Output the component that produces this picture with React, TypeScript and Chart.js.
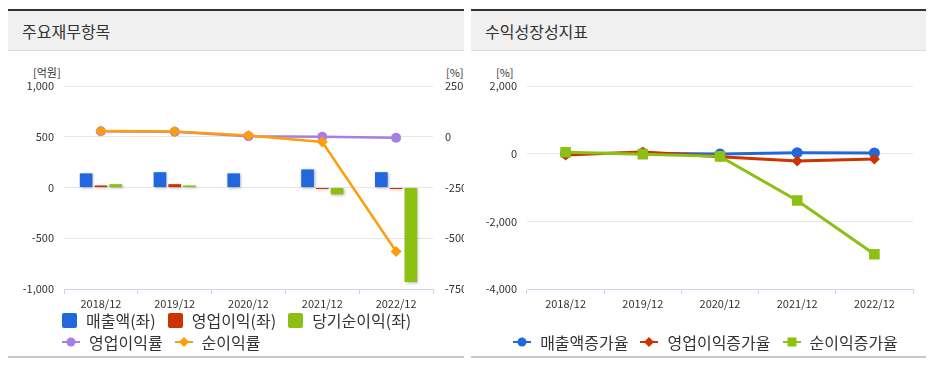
import React, { useEffect, useRef } from "react";
import { Chart, registerables } from "chart.js";

Chart.register(...registerables);

const FONT = '"Noto Sans CJK KR", "Noto Sans", sans-serif';

const categories = ["2018/12", "2019/12", "2020/12", "2021/12", "2022/12"];

// left chart (억원 / %)
const sales = [139, 151, 139, 178, 151];
const operatingIncome = [20, 33, 0, -15, -15];
const netIncome = [33, 20, 0, -67, -930];
const operatingMargin = [27, 25, 3, 0, -5];
const netMargin = [28, 26, 6, -26, -565];

// right chart (%)
const salesGrowth = [5, 9, -8, 28, 20];
const operatingGrowth = [-40, 50, -90, -218, -160];
const netGrowth = [40, -15, -80, -1383, -2975];

const leftAxisTicks = { min: -1000, max: 1000, step: 500 };
const rightAxisTicks = { min: -750, max: 250, step: 250 };
const growthAxisTicks = { min: -4000, max: 2000, step: 2000 };

const BLUE = "#2268dc";
const RED = "#cc3300";
const GREEN = "#8cc012";
const PURPLE = "#a77fe0";
const ORANGE = "#ff9e0a";

const barShadow = {
  id: "barShadow",
  beforeDatasetDraw(chart: any, args: any) {
    const meta = chart.getDatasetMeta(args.index);
    if (meta.type === "bar") {
      const ctx = chart.ctx;
      ctx.save();
      ctx.shadowColor = "rgba(0,0,0,0.32)";
      ctx.shadowBlur = 3;
      ctx.shadowOffsetX = 1;
      ctx.shadowOffsetY = 1;
    }
  },
  afterDatasetDraw(chart: any, args: any) {
    const meta = chart.getDatasetMeta(args.index);
    if (meta.type === "bar") chart.ctx.restore();
  },
};

const xScale = {
  grid: {
    display: true,
    drawOnChartArea: false,
    drawTicks: true,
    tickLength: 5,
    color: "#ccd6eb",
    offset: true,
  },
  border: { display: true, color: "#ccd6eb", width: 1 },
  ticks: { color: "#333", font: { size: 11, family: FONT }, padding: 3, maxRotation: 0 },
  afterFit: (s: any) => {
    s.height = 25;
  },
};

function LeftChart() {
  const ref = useRef<HTMLCanvasElement>(null);
  useEffect(() => {
    const barOpts = { categoryPercentage: 0.6, barPercentage: 0.86, yAxisID: "y" };
    const chart = new Chart(ref.current as HTMLCanvasElement, {
      type: "bar",
      data: {
        labels: categories,
        datasets: [
          { type: "bar", label: "매출액(좌)", data: sales, backgroundColor: BLUE, order: 2, ...barOpts } as any,
          { type: "bar", label: "영업이익(좌)", data: operatingIncome, backgroundColor: RED, order: 3, ...barOpts },
          { type: "bar", label: "당기순이익(좌)", data: netIncome, backgroundColor: GREEN, order: 4, ...barOpts },
          { type: "line", label: "영업이익률", data: operatingMargin, yAxisID: "y1", order: 1, borderColor: PURPLE, backgroundColor: PURPLE, borderWidth: 2.5, pointStyle: "circle", pointRadius: 5, pointBorderWidth: 0, pointBackgroundColor: PURPLE, tension: 0 },
          { type: "line", label: "순이익률", data: netMargin, yAxisID: "y1", order: 0, borderColor: ORANGE, backgroundColor: ORANGE, borderWidth: 2.5, pointStyle: "rectRot", pointRadius: 5.5, pointBorderWidth: 0, pointBackgroundColor: ORANGE, tension: 0 },
        ],
      },
      options: {
        responsive: false,
        animation: false,
        devicePixelRatio: 1,
        layout: { padding: { top: 34, bottom: 0, left: 0, right: 0 } },
        plugins: { legend: { display: false }, tooltip: { enabled: false } },
        scales: {
          x: xScale as any,
          y: {
            position: "left",
            min: leftAxisTicks.min,
            max: leftAxisTicks.max,
            ticks: { stepSize: leftAxisTicks.step, color: "#333", font: { size: 11, family: FONT }, padding: 10 },
            grid: { color: "#e6e6e6", drawTicks: false },
            border: { display: false },
            afterFit: (s: any) => {
              s.width = 56;
            },
          },
          y1: {
            position: "right",
            min: rightAxisTicks.min,
            max: rightAxisTicks.max,
            ticks: { stepSize: rightAxisTicks.step, color: "#333", font: { size: 11, family: FONT }, padding: 12 },
            grid: { display: false, drawTicks: false },
            border: { display: false },
            afterFit: (s: any) => {
              s.width = 31;
            },
          },
        },
      } as any,
      plugins: [barShadow],
    });
    return () => chart.destroy();
  }, []);
  return <canvas ref={ref} width={456} height={262} style={{ position: "absolute", left: 8, top: 52, width: 456, height: 262 }} />;
}

function RightChart() {
  const ref = useRef<HTMLCanvasElement>(null);
  useEffect(() => {
    const chart = new Chart(ref.current as HTMLCanvasElement, {
      type: "line",
      data: {
        labels: categories,
        datasets: [
          { label: "매출액증가율", data: salesGrowth, order: 2, borderColor: BLUE, backgroundColor: BLUE, borderWidth: 3, pointStyle: "circle", pointRadius: 5.5, pointBorderWidth: 0, pointBackgroundColor: BLUE, tension: 0 },
          { label: "영업이익증가율", data: operatingGrowth, order: 1, borderColor: RED, backgroundColor: RED, borderWidth: 3, pointStyle: "rectRot", pointRadius: 5.5, pointBorderWidth: 0, pointBackgroundColor: RED, tension: 0 },
          { label: "순이익증가율", data: netGrowth, order: 0, borderColor: GREEN, backgroundColor: GREEN, borderWidth: 3, pointStyle: "rect", pointRadius: 7.5, pointBorderWidth: 0, pointBackgroundColor: GREEN, tension: 0 },
        ],
      },
      options: {
        responsive: false,
        animation: false,
        devicePixelRatio: 1,
        layout: { padding: { top: 34, bottom: 0, left: 0, right: 15 } },
        plugins: { legend: { display: false }, tooltip: { enabled: false } },
        scales: {
          x: { ...xScale, offset: true } as any,
          y: {
            position: "left",
            min: growthAxisTicks.min,
            max: growthAxisTicks.max,
            ticks: { stepSize: growthAxisTicks.step, color: "#333", font: { size: 11, family: FONT }, padding: 10 },
            grid: { color: "#e6e6e6", drawTicks: false },
            border: { display: false },
            afterFit: (s: any) => {
              s.width = 56;
            },
          },
        },
      } as any,
    });
    return () => chart.destroy();
  }, []);
  return <canvas ref={ref} width={457} height={262} style={{ position: "absolute", left: 471, top: 52, width: 457, height: 262 }} />;
}

type Kind = "box" | "circle" | "diamond" | "square";

function Marker({ kind, color }: { kind: Kind; color: string }) {
  if (kind === "box") {
    return <span style={{ display: "inline-block", width: 15, height: 15, borderRadius: 2, background: color }} />;
  }
  return (
    <svg width={18} height={12} style={{ display: "block" }}>
      <line x1={0} y1={6} x2={18} y2={6} stroke={color} strokeWidth={2} />
      {kind === "circle" && <circle cx={9} cy={6} r={4.5} fill={color} />}
      {kind === "diamond" && <polygon points="9,1 14,6 9,11 4,6" fill={color} />}
      {kind === "square" && <rect x={4.5} y={1.5} width={9} height={9} fill={color} />}
    </svg>
  );
}

function LegendItem({ kind, color, label, last }: { kind: Kind; color: string; label: string; last?: boolean }) {
  return (
    <div style={{ display: "flex", alignItems: "center", marginRight: last ? 0 : 12 }}>
      <Marker kind={kind} color={color} />
      <span style={{ marginLeft: 9, fontSize: 16, color: "#333", lineHeight: "22px", whiteSpace: "nowrap" }}>{label}</span>
    </div>
  );
}

function Panel({ left, width, title }: { left: number; width: number; title: string }) {
  return (
    <>
      <div style={{ position: "absolute", left, top: 9, width, height: 2, background: "#333" }} />
      <div
        style={{
          position: "absolute",
          left,
          top: 11,
          width,
          height: 40,
          background: "#f0f0f0",
          borderBottom: "1px solid #dcdcdc",
          boxSizing: "border-box",
        }}
      >
        <span style={{ position: "absolute", left: 14, top: 10, fontSize: 16, lineHeight: "20px", color: "#333" }}>{title}</span>
      </div>
      <div style={{ position: "absolute", left, top: 356, width, height: 2, background: "#c8c8c8" }} />
    </>
  );
}

export default function App() {
  const unit = { position: "absolute" as const, fontSize: 11, lineHeight: "14px", color: "#333" };
  return (
    <div style={{ position: "absolute", left: 0, top: 0, width: 928, height: 365, background: "#fff", fontFamily: FONT, overflow: "hidden" }}>
      <Panel left={8} width={456} title="주요재무항목" />
      <Panel left={471} width={455} title="수익성장성지표" />
      <div style={{ ...unit, left: 33, top: 65 }}>[억원]</div>
      <div style={{ ...unit, left: 446, top: 65 }}>[%]</div>
      <div style={{ ...unit, left: 496, top: 65 }}>[%]</div>
      <LeftChart />
      <RightChart />
      <div style={{ position: "absolute", left: 62, top: 309 }}>
        <div style={{ display: "flex", height: 22, alignItems: "center" }}>
          <LegendItem kind="box" color={BLUE} label="매출액(좌)" />
          <LegendItem kind="box" color={RED} label="영업이익(좌)" />
          <LegendItem kind="box" color={GREEN} label="당기순이익(좌)" last />
        </div>
        <div style={{ display: "flex", height: 22, alignItems: "center" }}>
          <LegendItem kind="circle" color={PURPLE} label="영업이익률" />
          <LegendItem kind="diamond" color={ORANGE} label="순이익률" last />
        </div>
      </div>
      <div style={{ position: "absolute", left: 477, top: 331, width: 457, height: 22, display: "flex", justifyContent: "center", alignItems: "center" }}>
        <LegendItem kind="circle" color={BLUE} label="매출액증가율" />
        <LegendItem kind="diamond" color={RED} label="영업이익증가율" />
        <LegendItem kind="square" color={GREEN} label="순이익증가율" last />
      </div>
    </div>
  );
}
